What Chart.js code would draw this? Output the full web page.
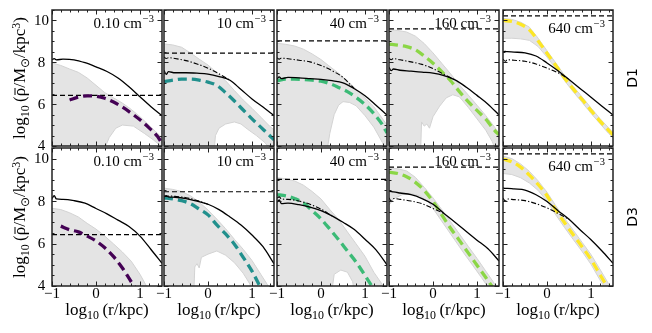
<!DOCTYPE html>
<html>
<head>
<meta charset="utf-8">
<script src="https://cdn.jsdelivr.net/npm/chart.js@4.4.1/dist/chart.umd.min.js"></script>
<style>
  html, body { margin: 0; padding: 0; background: #fff; }
  #fig { position: relative; width: 652px; height: 333px; overflow: hidden; font-family: "Liberation Serif", serif; color: #000; }
  #fig canvas { position: absolute; }
  .lbl { position: absolute; white-space: nowrap; }
  .xt { font-size: 17px; line-height: 17px; transform: translateX(-50%); }
  .yt { font-size: 17px; line-height: 17px; transform: translate(-50%, -50%) rotate(-90deg); }
  .rt { font-family: "DejaVu Sans", sans-serif; font-size: 14px; line-height: 14px; transform: translate(-50%, -50%) rotate(-90deg); }
  .sub { font-size: 70%; position: relative; top: 0.3em; }
  .sup { font-size: 70%; position: relative; top: -0.45em; }
  .rb { position: relative; }
  .bar { position: absolute; left: 0.08em; right: 0.02em; top: 0.3em; border-top: 1px solid #000; }
</style>
</head>
<body>
<div id="fig"></div>
<script>
// panel labels
const densLabels = ['0.10', '10', '40', '160', '640'];
const rowLabels = ['D1', 'D3'];
const profColors = ['#440154', '#21908d', '#3bba76', '#8bd646', '#fde725'];

// axis ticks
const xTicks = [-1, 0, 1];
const yTicks = [4, 6, 8, 10];

// density threshold (dashed horizontal line), one per column
const rhoThresh = [6.42, 8.44, 9.02, 9.6, 10.22];

// black solid / dash-dot profiles, sampled on sGrid
const sGrid = [-1, -0.95, -0.9, -0.75, -0.5, -0.25, 0, 0.25, 0.5, 0.75, 1, 1.25, 1.5];
const solidD1 = [
  [8.12, 8.18, 8.12, 8.15, 8.12, 7.98, 7.78, 7.56, 7.25, 6.83, 6.35, 5.88, 5.45],
  [7.62, 7.42, 7.55, 7.5, 7.5, 7.48, 7.44, 7.32, 7.14, 6.7, 6.25, 5.86, 5.46],
  [7.2, 7.3, 7.22, 7.28, 7.26, 7.22, 7.18, 7.12, 7.02, 6.75, 6.4, 5.95, 5.48],
  [7.76, 7.6, 7.68, 7.62, 7.58, 7.53, 7.48, 7.36, 7.16, 6.82, 6.42, 6.0, 5.48],
  [8.5, 8.52, 8.51, 8.49, 8.45, 8.3, 7.97, 7.6, 7.18, 6.75, 6.33, 5.9, 5.48]
];
const solidD3 = [
  [8.12, 8.25, 8.1, 8.08, 8.02, 7.9, 7.65, 7.4, 7.1, 6.8, 6.35, 5.72, 5.07],
  [8.2, 8.25, 8.2, 8.18, 8.12, 8.0, 7.85, 7.6, 7.25, 6.87, 6.4, 5.85, 5.05],
  [7.95, 8.05, 7.88, 7.9, 7.83, 7.72, 7.55, 7.3, 7.0, 6.67, 6.2, 5.7, 5.0],
  [8.47, 8.45, 8.43, 8.38, 8.3, 8.12, 7.85, 7.42, 7.0, 6.58, 6.16, 5.75, 5.18],
  [8.62, 8.6, 8.6, 8.57, 8.52, 8.3, 7.98, 7.55, 7.14, 6.65, 6.18, 5.65, 5.07]
];
const dashDotD1 = [
  null,
  [8.25, 8.18, 8.22, 8.18, 8.08, 7.92, 7.72, 7.45, 7.14],
  [8.22, 8.15, 8.2, 8.17, 8.1, 8.02, 7.85, 7.6, 7.28, 6.75],
  [8.2, 8.12, 8.18, 8.12, 8.02, 7.9, 7.7, 7.42, 7.16],
  [8.15, 8.05, 8.12, 8.1, 8.05, 7.92, 7.72, 7.5, 7.18]
];
const dashDotD3 = [
  null,
  [8.25, 8.22, 8.24, 8.22, 8.16, 8.03, 7.85],
  [8.15, 8.2, 8.1, 8.08, 8.0, 7.85, 7.62, 7.3],
  [8.15, 8.0, 8.12, 8.08, 8.0, 7.88, 7.65, 7.42],
  [8.14, 8.0, 8.1, 8.07, 8.02, 7.88, 7.68, 7.42, 7.14]
];

// coloured dashed profiles and top edge of grey band, sampled on cGrid
const cGrid = [-1, -0.8, -0.6, -0.4, -0.2, 0, 0.2, 0.4, 0.6, 0.8, 1, 1.2, 1.4, 1.5];
const profD1 = [
  [null, null, 6.2, 6.34, 6.4, 6.38, 6.28, 6.1, 5.86, 5.57, 5.25, 4.88, 4.45, 4.12],
  [7.08, 7.15, 7.2, 7.2, 7.15, 7.05, 6.9, 6.55, 6.15, 5.72, 5.3, 4.9, 4.5, 4.29],
  [7.12, 7.2, 7.2, 7.18, 7.15, 7.1, 6.98, 6.8, 6.6, 6.32, 5.98, 5.55, 5.0, 4.62],
  [8.87, 8.82, 8.75, 8.6, 8.3, 7.96, 7.55, 7.12, 6.6, 6.12, 5.7, 5.28, 4.75, 4.53],
  [10.0, 9.95, 9.82, 9.55, 9.02, 8.43, 7.85, 7.25, 6.72, 6.22, 5.7, 5.2, 4.75, 4.53]
];
const profD3 = [
  [null, 6.82, 6.65, 6.55, 6.35, 6.12, 5.8, 5.38, 4.85, 4.2, 3.6, null, null, null],
  [8.15, 8.1, 8.02, 7.88, 7.62, 7.35, 6.88, 6.45, 5.97, 5.35, 4.7, 3.9, null, null],
  [8.3, 8.25, 8.12, 7.92, 7.55, 7.16, 6.68, 6.18, 5.65, 5.12, 4.5, 3.85, null, null],
  [9.36, 9.3, 9.15, 8.88, 8.5, 7.98, 7.35, 6.72, 6.15, 5.56, 4.98, 4.4, 3.8, null],
  [9.98, 9.85, 9.6, 9.22, 8.78, 8.25, 7.58, 6.98, 6.4, 5.84, 5.25, 4.55, 3.85, null]
];
const bandTopD1 = [
  [7.97, 7.85, 7.68, 7.52, 7.25, 6.9, 6.55, 6.3, 6.05, 5.75, 5.4, 5.0, 4.6, 4.4],
  [8.88, 8.83, 8.72, 8.45, 8.15, 7.87, 7.5, 7.12, 6.65, 6.2, 5.8, 5.38, 4.95, 4.77],
  [8.91, 8.86, 8.78, 8.63, 8.4, 8.13, 7.8, 7.48, 7.1, 6.72, 6.3, 5.88, 5.3, 5.0],
  [9.56, 9.52, 9.45, 9.25, 8.9, 8.45, 7.95, 7.45, 6.92, 6.44, 5.95, 5.45, 4.9, 4.6],
  [10.1, 10.05, 9.92, 9.68, 9.15, 8.55, 7.97, 7.37, 6.84, 6.34, 5.82, 5.32, 4.87, 4.65]
];
const bandTopD3 = [
  [7.66, 7.6, 7.45, 7.25, 6.95, 6.68, 6.35, 5.98, 5.6, 5.17, 4.55, 3.8, 3.8, 3.8],
  [8.61, 8.55, 8.45, 8.25, 7.95, 7.58, 7.15, 6.7, 6.2, 5.73, 5.2, 4.55, 3.9, 3.6],
  [9.1, 9.05, 8.95, 8.75, 8.45, 8.1, 7.6, 7.13, 6.55, 5.98, 5.4, 4.65, 4.05, 3.8],
  [9.57, 9.52, 9.42, 9.12, 8.65, 8.15, 7.6, 7.03, 6.45, 5.87, 5.3, 4.7, 4.1, 3.8],
  [10.12, 10.0, 9.75, 9.4, 8.95, 8.42, 7.78, 7.18, 6.62, 6.05, 5.48, 4.8, 4.1, 3.8]
];

// bottom edge of grey band, [x, y] pairs from left to right
const bandLowD1 = [
  [[-1, 3.8], [0.18, 3.8], [0.3, 4.4], [0.45, 4.85], [0.6, 5.0], [0.85, 4.95], [1.1, 4.6], [1.3, 4.3], [1.5, 3.95]],
  [[-1, 3.8], [0.14, 3.8], [0.17, 4.5], [0.25, 4.85], [0.4, 5.05], [0.6, 5.15], [0.75, 5.05], [0.9, 4.8], [1.1, 4.5], [1.3, 4.15], [1.42, 3.8], [1.5, 3.8]],
  [[-1, 3.8], [0.14, 3.8], [0.2, 4.6], [0.3, 5.5], [0.4, 5.95], [0.5, 6.12], [0.65, 6.08], [0.8, 5.92], [1.0, 5.45], [1.2, 4.9], [1.4, 4.15], [1.46, 3.8], [1.5, 3.8]],
  [[-1, 3.8], [-0.28, 3.8], [-0.26, 5.15], [-0.2, 4.95], [-0.14, 5.05], [-0.08, 4.85], [0, 5.4], [0.15, 5.9], [0.3, 6.3], [0.45, 6.45], [0.6, 6.35], [0.8, 5.85], [1.0, 5.3], [1.2, 4.75], [1.35, 4.2], [1.42, 3.8], [1.5, 3.8]],
  [[-1, 9.15], [-0.8, 9.15], [-0.6, 9.12], [-0.4, 9.05], [-0.2, 8.75], [0, 8.25], [0.2, 7.7], [0.4, 7.12], [0.6, 6.58], [0.8, 6.08], [1.0, 5.56], [1.2, 5.08], [1.4, 4.6], [1.5, 4.4]]
];
const bandLowD3 = [
  [[-1, 3.8], [1.5, 3.8]],
  [[-1, 3.8], [-0.32, 3.8], [-0.3, 4.9], [-0.25, 5.05], [-0.2, 4.85], [-0.15, 5.35], [0, 5.5], [0.2, 5.65], [0.4, 5.45], [0.6, 5.1], [0.8, 4.6], [0.95, 4.1], [1.0, 3.8], [1.5, 3.8]],
  [[-1, 3.8], [0.25, 3.8], [0.3, 4.55], [0.45, 4.75], [0.6, 4.65], [0.72, 4.2], [0.75, 3.8], [1.5, 3.8]],
  [[-1, 7.8], [-0.9, 8.1], [-0.7, 8.3], [-0.5, 8.35], [-0.3, 8.25], [-0.1, 7.95], [0.1, 7.35], [0.3, 6.75], [0.5, 6.15], [0.7, 5.55], [0.9, 4.98], [1.1, 4.4], [1.3, 3.8], [1.5, 3.8]],
  [[-1, 9.3], [-0.8, 9.25], [-0.6, 9.1], [-0.4, 8.85], [-0.2, 8.5], [0, 8.0], [0.2, 7.35], [0.4, 6.75], [0.6, 6.18], [0.8, 5.62], [1.0, 5.02], [1.2, 4.3], [1.35, 3.8], [1.5, 3.8]]
];

// layout of the 2x5 grid (page pixels)
const colLeft = [52, 164, 277, 389, 503];
const rowTop = [10, 148];
const panelW = 110;
const panelH = [136, 138];
const pad = { left: 30, right: 6, top: 4, bottom: 22 };
const serif = '"Liberation Serif", serif';

function pts(xs, ys) {
  const out = [];
  if (!ys) return out;
  xs.forEach((x, i) => {
    if (ys[i] !== null && ys[i] !== undefined) out.push({ x: x, y: ys[i] });
  });
  return out;
}

// frame, inward ticks, tick labels and density label
const deco = {
  id: 'deco',
  afterDraw(chart, args, opts) {
    const { ctx, chartArea: a, scales } = chart;
    const xs = scales.x, ys = scales.y;
    ctx.save();
    ctx.strokeStyle = '#222';
    ctx.lineWidth = 1;
    ctx.beginPath();
    for (let k = 0; k <= 12; k++) {
      const px = Math.round(xs.getPixelForValue(-1 + 0.2 * k)) + 0.5;
      const len = k % 5 === 0 ? 4.5 : 2.5;
      ctx.moveTo(px, a.bottom); ctx.lineTo(px, a.bottom - len);
      ctx.moveTo(px, a.top); ctx.lineTo(px, a.top + len);
    }
    for (let k = 0; k <= 13; k++) {
      const py = Math.round(ys.getPixelForValue(4 + 0.5 * k)) + 0.5;
      const len = k % 4 === 0 ? 4.5 : 2.5;
      ctx.moveTo(a.left, py); ctx.lineTo(a.left + len, py);
      ctx.moveTo(a.right, py); ctx.lineTo(a.right - len, py);
    }
    ctx.stroke();
    ctx.lineWidth = 1.5;
    ctx.strokeRect(a.left, a.top, a.right - a.left, a.bottom - a.top);

    ctx.fillStyle = '#000';
    ctx.font = '15px ' + serif;
    if (opts.c === 0) {
      ctx.textAlign = 'center';
      ctx.textBaseline = 'middle';
      yTicks.forEach(v => ctx.fillText(String(v), a.left - 10.5, ys.getPixelForValue(v) + 0.5));
    }
    if (opts.r === 1) {
      ctx.textAlign = 'center';
      ctx.textBaseline = 'alphabetic';
      xTicks.forEach(v => {
        const s = v < 0 ? '\u2212' + Math.abs(v) : String(v);
        ctx.fillText(s, xs.getPixelForValue(v), a.bottom + 11.5);
      });
    }

    const main = densLabels[opts.c] + ' cm';
    const sup = '\u22123';
    ctx.textAlign = 'left';
    ctx.textBaseline = 'alphabetic';
    ctx.font = '15px ' + serif;
    const wMain = ctx.measureText(main).width;
    ctx.font = '10.5px ' + serif;
    const wSup = ctx.measureText(sup).width;
    const xr = a.right - 8;
    const base = a.top + (opts.c === 4 ? 23 : 17.5);
    ctx.font = '15px ' + serif;
    ctx.fillText(main, xr - wSup - wMain - 1, base);
    ctx.font = '10.5px ' + serif;
    ctx.fillText(sup, xr - wSup, base - 6);
    ctx.restore();
  }
};

const fig = document.getElementById('fig');

for (let r = 0; r < 2; r++) {
  for (let c = 0; c < 5; c++) {
    const cv = document.createElement('canvas');
    const w = panelW + pad.left + pad.right;
    const h = panelH[r] + pad.top + pad.bottom;
    cv.width = w; cv.height = h;
    cv.style.width = w + 'px'; cv.style.height = h + 'px';
    cv.style.left = (colLeft[c] - pad.left) + 'px';
    cv.style.top = (rowTop[r] - pad.top) + 'px';
    fig.appendChild(cv);

    const solid = [solidD1, solidD3][r][c];
    const dd = [dashDotD1, dashDotD3][r][c];
    const prof = [profD1, profD3][r][c];
    const top = [bandTopD1, bandTopD3][r][c];
    const low = [bandLowD1, bandLowD3][r][c];
    const band = pts(cGrid, top).concat(low.slice().reverse().map(p => ({ x: p[0], y: p[1] })));

    const line = { pointRadius: 0, clip: 0, fill: false, cubicInterpolationMode: 'monotone' };
    const datasets = [
      Object.assign({}, line, { data: pts(sGrid, solid), borderColor: '#000', borderWidth: 1.3, order: 1 }),
      Object.assign({}, line, { data: pts(sGrid, dd), borderColor: '#000', borderWidth: 1.1, borderDash: [5, 2, 1.3, 2], order: 2 }),
      Object.assign({}, line, { data: pts(cGrid, prof), borderColor: profColors[c], borderWidth: 3.3, borderDash: [9, 5], order: 3 }),
      Object.assign({}, line, { data: [{ x: -1, y: rhoThresh[c] }, { x: 1.5, y: rhoThresh[c] }], borderColor: '#000', borderWidth: 1.2, borderDash: [5, 3], order: 4 }),
      { data: band, pointRadius: 0, clip: 0, fill: 'shape', tension: 0, backgroundColor: '#e4e4e4', borderColor: '#d3d3d3', borderWidth: 1, order: 5 }
    ];

    new Chart(cv, {
      type: 'line',
      data: { datasets: datasets },
      options: {
        responsive: false,
        animation: false,
        devicePixelRatio: 1,
        events: [],
        layout: { padding: pad },
        plugins: { legend: { display: false }, tooltip: { enabled: false }, deco: { r: r, c: c } },
        scales: {
          x: { type: 'linear', min: -1, max: 1.5, display: false },
          y: { type: 'linear', min: 4, max: 10.5, display: false }
        }
      },
      plugins: [deco]
    });
  }
}

// axis titles and row labels
function addLabel(cls, html, left, top) {
  const d = document.createElement('div');
  d.className = 'lbl ' + cls;
  d.innerHTML = html;
  d.style.left = left + 'px';
  d.style.top = top + 'px';
  fig.appendChild(d);
}
const xTitle = 'log<span class="sub">10</span>\u2009(r/kpc)';
const yTitle = 'log<span class="sub">10</span>\u2009(<span class="rb">\u03c1<span class="bar"></span></span>/M<span class="sub">\u2299</span>/kpc<span class="sup">3</span>)';
for (let c = 0; c < 5; c++) addLabel('xt', xTitle, colLeft[c] + panelW / 2, 301);
for (let r = 0; r < 2; r++) {
  const mid = rowTop[r] + panelH[r] / 2;
  addLabel('yt', yTitle, 20, mid);
  addLabel('rt', rowLabels[r], 632, mid);
}
</script>
</body>
</html>
